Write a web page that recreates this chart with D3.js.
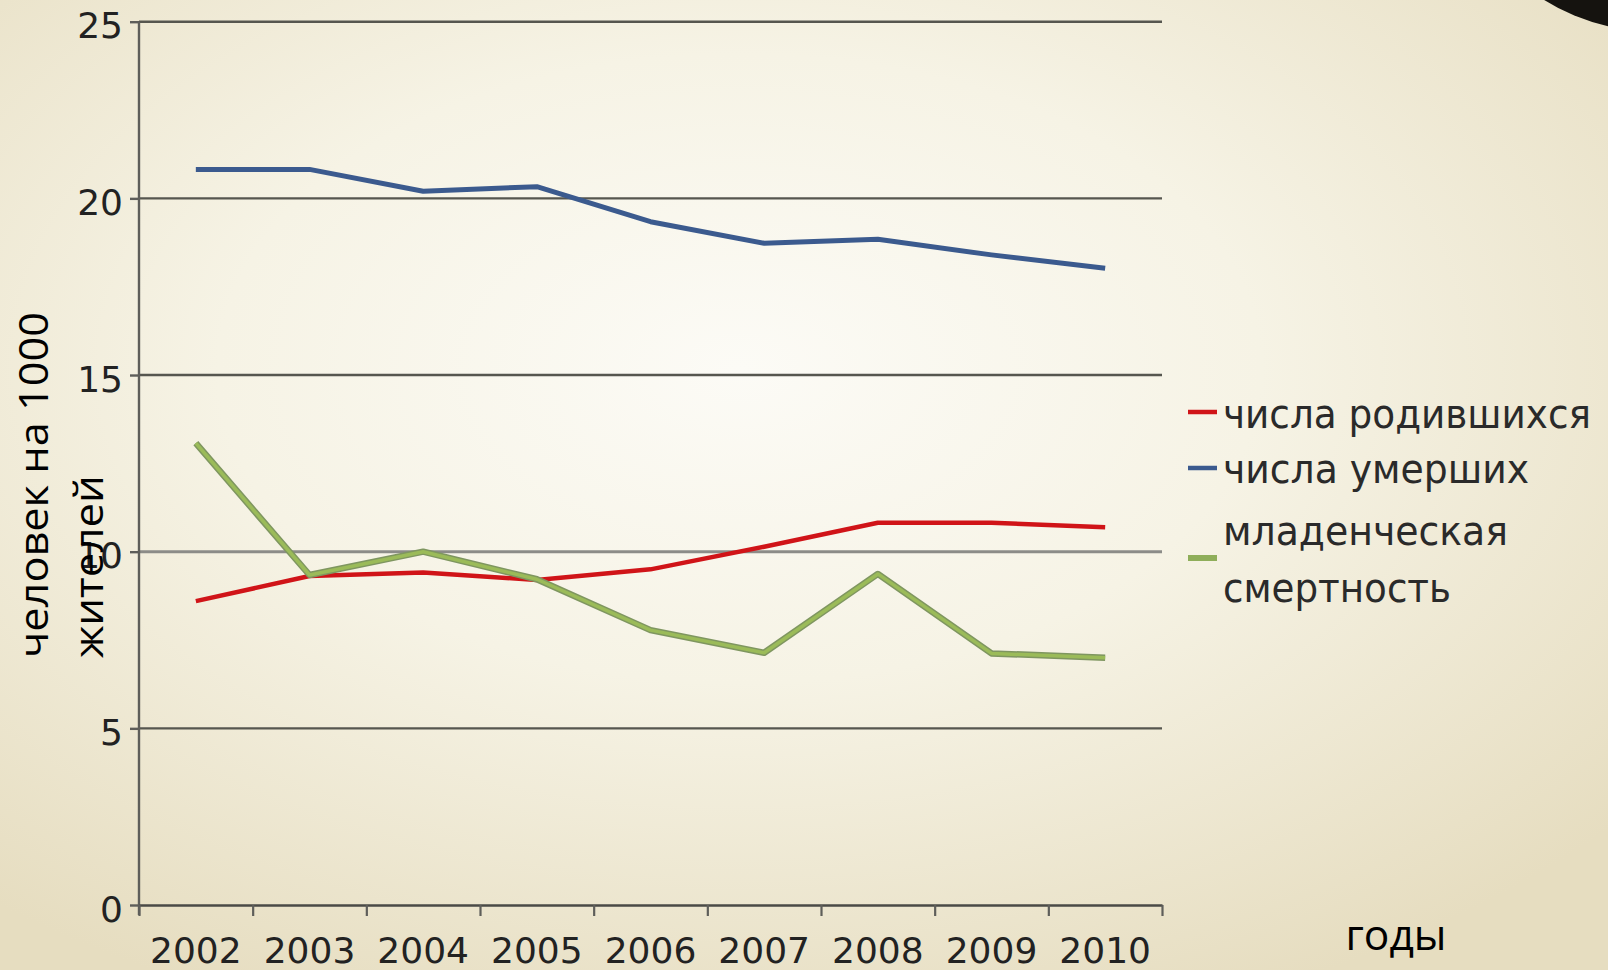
<!DOCTYPE html>
<html>
<head>
<meta charset="utf-8">
<script src="https://cdn.jsdelivr.net/npm/d3@7"></script>
<style>
  html, body { margin: 0; padding: 0; overflow: hidden; }
  body { width: 1608px; height: 970px; }
</style>
</head>
<body>
<div id="chart"></div>
<script>
// data
const years = [2002, 2003, 2004, 2005, 2006, 2007, 2008, 2009, 2010];
const births = [8.6, 9.31, 9.41, 9.2, 9.5, 10.14, 10.82, 10.82, 10.69];
const deaths = [20.82, 20.82, 20.2, 20.33, 19.34, 18.73, 18.84, 18.4, 18.02];
const infant = [13.07, 9.34, 10.0, 9.22, 7.78, 7.14, 9.37, 7.12, 7.0];
const yTicks = [0, 5, 10, 15, 20, 25];
const seriesNames = ["числа родившихся", "числа умерших", "младенческая", "смертность"];
const colors = ["#d01418", "#3b5a8e", "#9bbb59"];

const width = 1608, height = 970;
const plotLeft = 139, plotRight = 1162, plotTop = 21.7, plotBottom = 905;

const svg = d3.select("#chart").append("svg")
    .attr("width", width)
    .attr("height", height);

// background
const defs = svg.append("defs");
const grad = defs.append("radialGradient")
    .attr("id", "bg")
    .attr("cx", "46%").attr("cy", "38%").attr("r", "72%");
grad.append("stop").attr("offset", "0%").attr("stop-color", "#fcfbf6");
grad.append("stop").attr("offset", "45%").attr("stop-color", "#f6f3e5");
grad.append("stop").attr("offset", "100%").attr("stop-color", "#e6ddc0");

svg.append("rect")
    .attr("width", width).attr("height", height)
    .attr("fill", "url(#bg)");

// dark shape in the top right corner
svg.append("circle")
    .attr("cx", 1652).attr("cy", -172).attr("r", 203)
    .attr("fill", "#15130f");

// scales
const x = d3.scaleBand()
    .domain(years)
    .range([plotLeft, plotRight]);

const xEdge = d3.scaleLinear()
    .domain([0, years.length])
    .range([plotLeft, plotRight]);

const y = d3.scaleLinear()
    .domain([0, 25])
    .range([plotBottom, plotTop]);

const cx = d => x(d) + x.bandwidth() / 2;

// gridlines
svg.append("g")
    .selectAll("line")
    .data(yTicks.filter(d => d > 0))
    .enter()
    .append("line")
    .attr("x1", plotLeft).attr("x2", plotRight)
    .attr("y1", d => y(d)).attr("y2", d => y(d))
    .attr("stroke", d => d == 10 ? "#8c8c88" : "#56564f")
    .attr("stroke-width", d => d == 10 ? 3 : 2.4);

// y axis
const yAxis = d3.axisLeft(y)
    .tickValues(yTicks)
    .tickSize(9)
    .tickPadding(7)
    .tickSizeOuter(0);

const gy = svg.append("g")
    .attr("transform", "translate(" + plotLeft + ",0)")
    .call(yAxis);
gy.select(".domain").remove();
gy.append("line")
    .attr("x1", 0).attr("x2", 0)
    .attr("y1", plotTop).attr("y2", plotBottom + 10)
    .attr("stroke", "#5e5e5a").attr("stroke-width", 2.4);
gy.selectAll(".tick line").attr("stroke", "#5e5e5a").attr("stroke-width", 2.4);
gy.selectAll(".tick text")
    .attr("fill", "#222")
    .attr("dy", "0.45em")
    .style("font", "36px 'DejaVu Sans'");

// x axis: ticks on band edges, labels in band centres
const xAxis = d3.axisBottom(xEdge)
    .tickValues(d3.range(years.length + 1))
    .tickFormat("")
    .tickSize(11)
    .tickSizeOuter(0);

const gx = svg.append("g")
    .attr("transform", "translate(0," + plotBottom + ")")
    .call(xAxis);
gx.select(".domain")
    .attr("stroke", "#4a4a46").attr("stroke-width", 2.6);
gx.selectAll(".tick line").attr("stroke", "#5e5e5a").attr("stroke-width", 2.2);

svg.append("g")
    .selectAll("text")
    .data(years)
    .enter()
    .append("text")
    .attr("x", cx)
    .attr("y", 963)
    .attr("text-anchor", "middle")
    .attr("fill", "#222")
    .style("font", "36px 'DejaVu Sans'")
    .text(d => d);

// lines
const line = d3.line()
    .x((d, i) => cx(years[i]))
    .y(d => y(d));

svg.append("path")
    .attr("d", line(births))
    .attr("fill", "none")
    .attr("stroke", colors[0])
    .attr("stroke-width", 4.5)
    .attr("stroke-linejoin", "round");

svg.append("path")
    .attr("d", line(deaths))
    .attr("fill", "none")
    .attr("stroke", colors[1])
    .attr("stroke-width", 5)
    .attr("stroke-linejoin", "round");

svg.append("path")
    .attr("d", line(infant))
    .attr("fill", "none")
    .attr("stroke", "#7f9660")
    .attr("stroke-width", 6.5)
    .attr("stroke-linejoin", "round");
svg.append("path")
    .attr("d", line(infant))
    .attr("fill", "none")
    .attr("stroke", colors[2])
    .attr("stroke-width", 3.5)
    .attr("stroke-linejoin", "round");

// legend
const legend = svg.append("g").style("font", "40px 'DejaVu Sans'");
const markY = [412, 468, 558];
markY.forEach((my, i) => {
    legend.append("line")
        .attr("x1", 1188).attr("x2", 1217)
        .attr("y1", my).attr("y2", my)
        .attr("stroke", i == 2 ? "#8fae5a" : colors[i])
        .attr("stroke-width", i == 2 ? 6 : 4.5);
});
const legendRows = [
    {t: seriesNames[0], y: 428, w: 368},
    {t: seriesNames[1], y: 483, w: 306},
    {t: seriesNames[2], y: 545, w: 285},
    {t: seriesNames[3], y: 602, w: 228}
];
legend.selectAll("text")
    .data(legendRows)
    .enter()
    .append("text")
    .attr("x", 1223)
    .attr("y", d => d.y)
    .attr("fill", "#2a2a2a")
    .attr("textLength", d => d.w)
    .attr("lengthAdjust", "spacingAndGlyphs")
    .text(d => d.t);

// axis titles
svg.append("text")
    .attr("x", 1396).attr("y", 950)
    .attr("text-anchor", "middle")
    .attr("textLength", 101)
    .attr("lengthAdjust", "spacingAndGlyphs")
    .style("font", "42px 'Open Sans'")
    .attr("fill", "#000")
    .text("годы");

const yTitle = svg.append("text")
    .attr("transform", "translate(48,658) rotate(-90)")
    .style("font", "40px 'Open Sans'")
    .attr("fill", "#000");
yTitle.append("tspan")
    .attr("x", 0).attr("y", 0)
    .attr("textLength", 346)
    .attr("lengthAdjust", "spacingAndGlyphs")
    .text("человек на 1000");
yTitle.append("tspan")
    .attr("x", 0).attr("y", 55)
    .attr("textLength", 183)
    .attr("lengthAdjust", "spacingAndGlyphs")
    .text("жителей");
</script>
</body>
</html>
